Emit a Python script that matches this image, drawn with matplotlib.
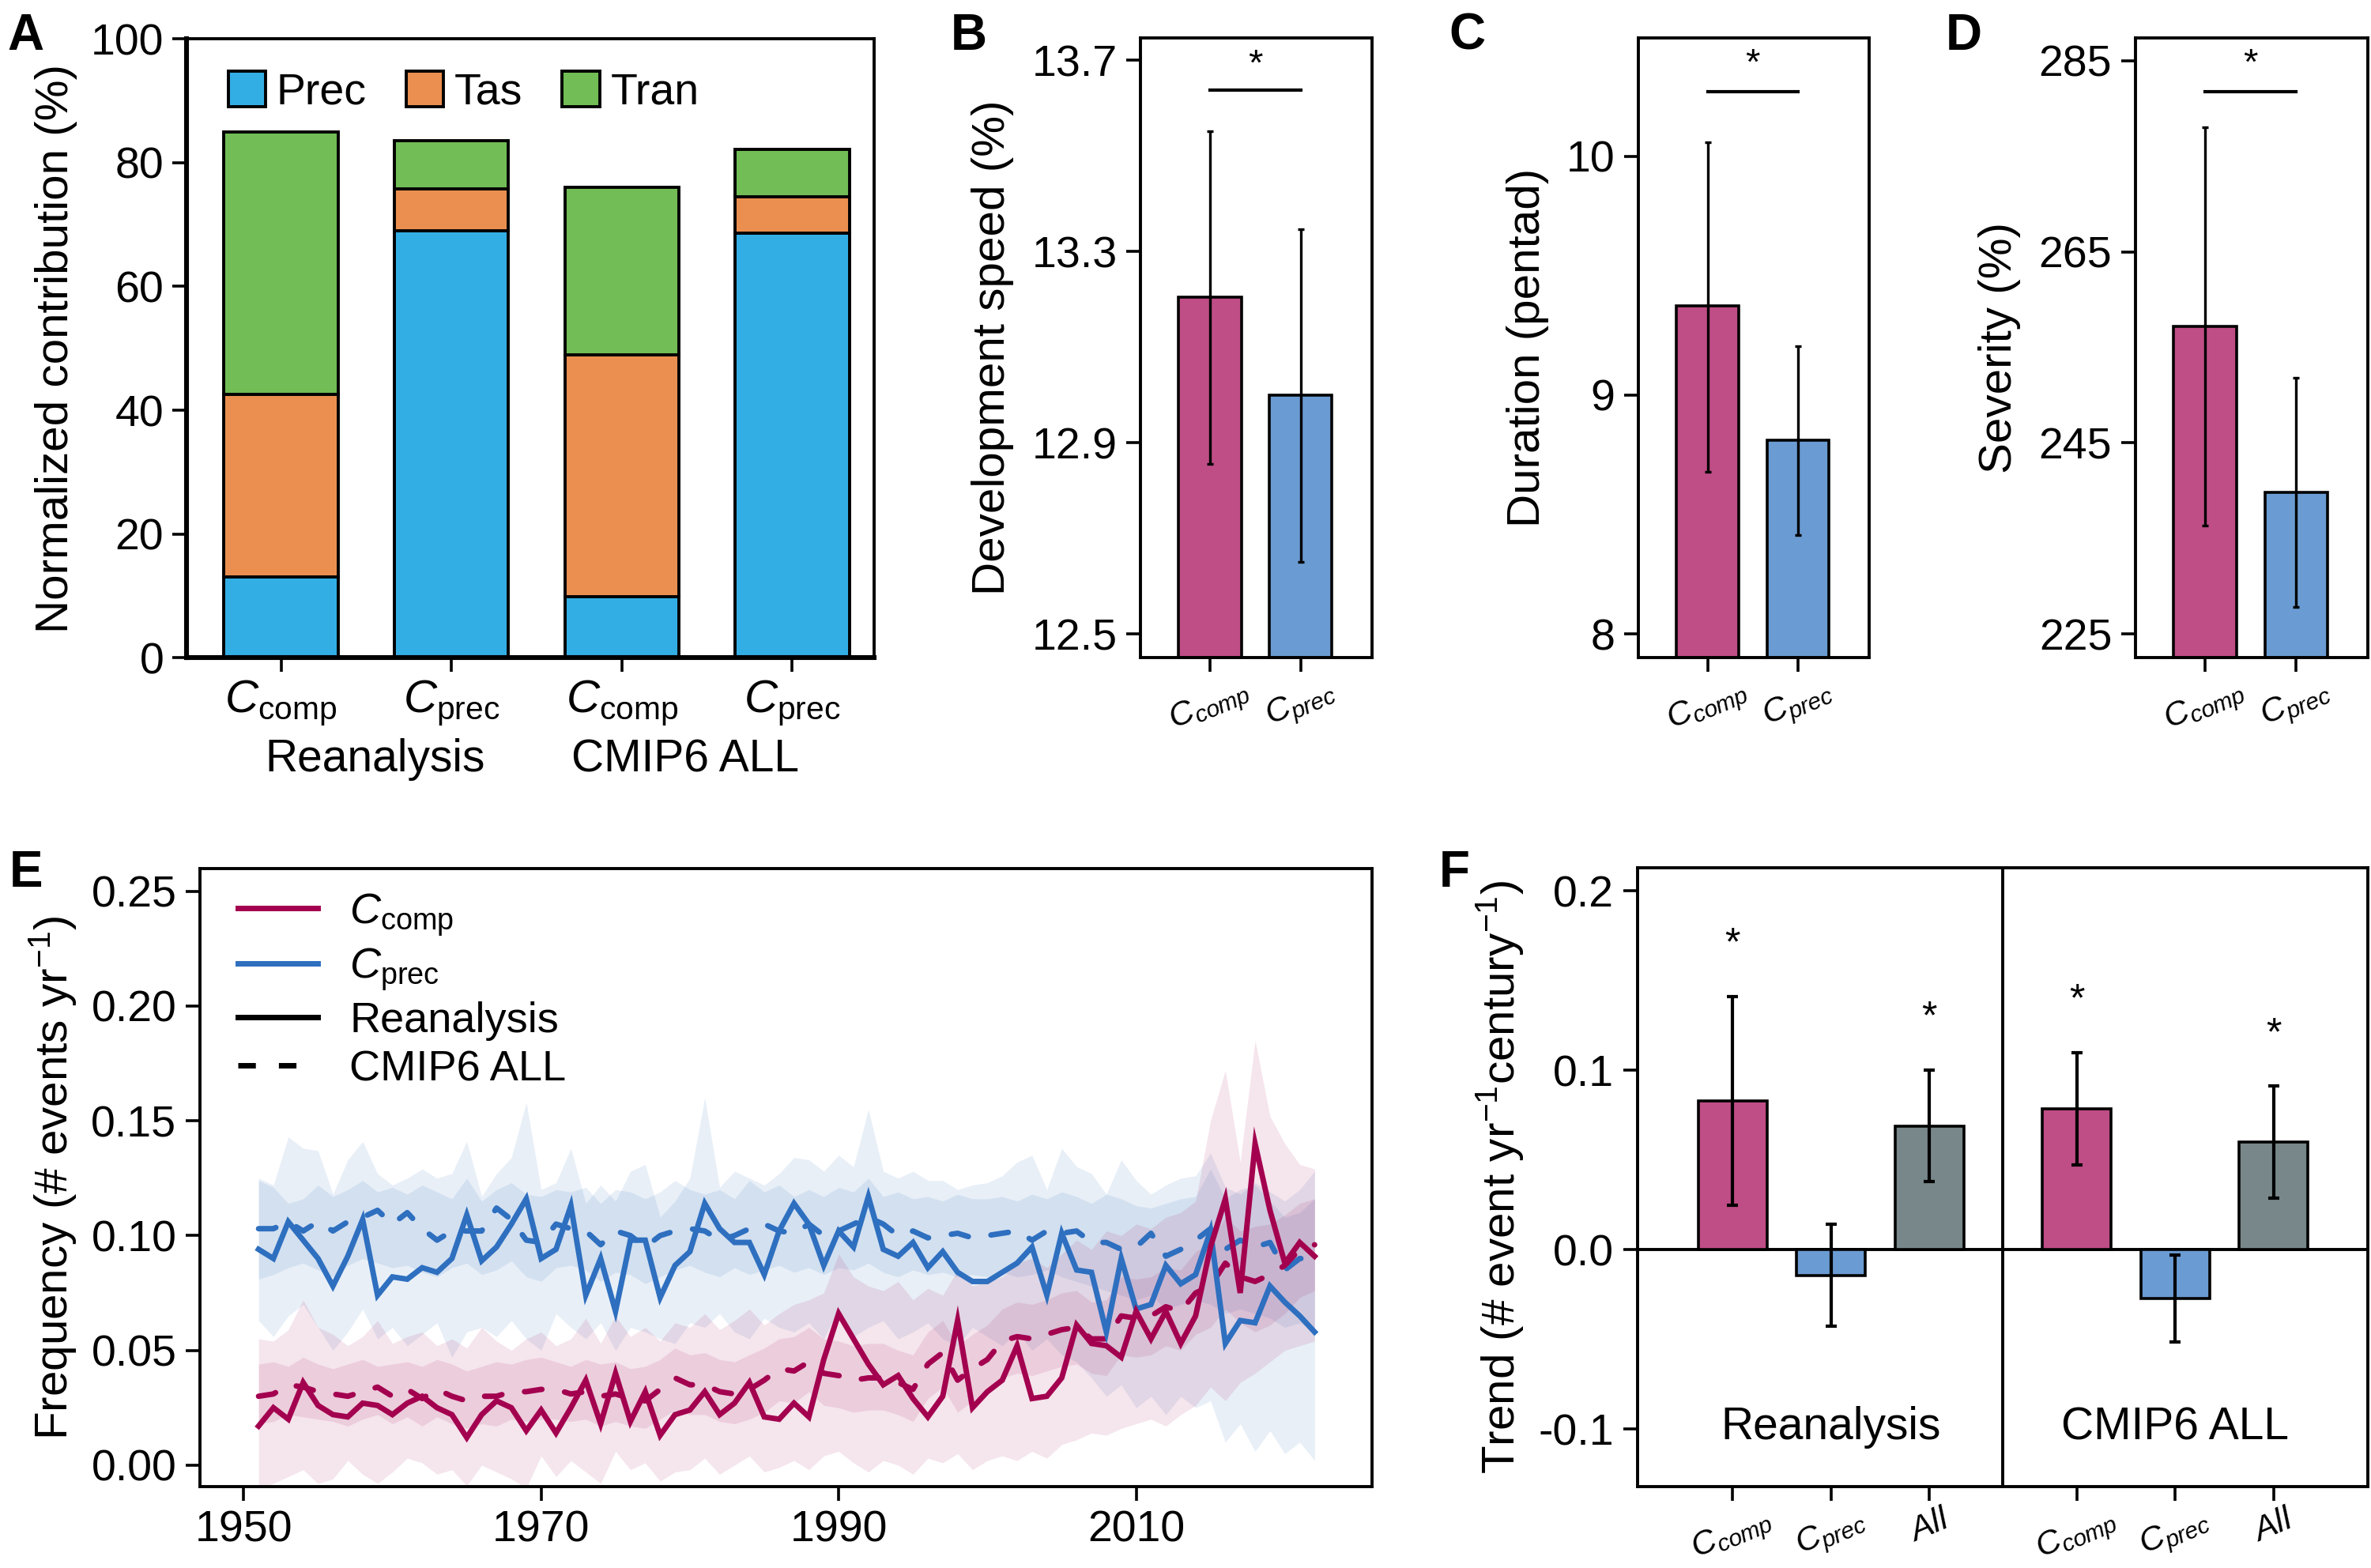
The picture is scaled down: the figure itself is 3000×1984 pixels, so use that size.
import numpy as np
import matplotlib
matplotlib.use("Agg")
import matplotlib.pyplot as plt
from matplotlib.lines import Line2D

plt.rcParams['font.family'] = ['Liberation Sans', 'DejaVu Sans']
plt.rcParams['mathtext.fontset'] = 'custom'
plt.rcParams['mathtext.rm'] = 'Liberation Sans'
plt.rcParams['mathtext.it'] = 'Liberation Sans:italic'
plt.rcParams['mathtext.bf'] = 'Liberation Sans:bold'

# ---------------- data ----------------
# Panel A
a_groups = ['Reanalysis', 'CMIP6 ALL']
a_prec = [13.0, 69.0, 9.9, 68.6]
a_tas = [29.6, 6.7, 39.0, 5.9]
a_tran = [42.3, 7.8, 27.1, 7.7]

# Panels B-D (Ccomp, Cprec)
b_val = [13.204, 12.999]
b_lo = [12.856, 12.651]
b_hi = [13.552, 13.347]
c_val = [9.373, 8.81]
c_lo = [8.68, 8.414]
c_hi = [10.059, 9.205]
d_val = [257.2, 239.8]
d_lo = [236.3, 227.8]
d_hi = [278.0, 251.8]

# Panel E
years = list(range(1951, 2023))
comp_rea = [0.017, 0.025, 0.020, 0.036, 0.026, 0.022, 0.021, 0.027, 0.026, 0.022,
            0.027, 0.030, 0.025, 0.022, 0.012, 0.022, 0.028, 0.025, 0.015, 0.024,
            0.014, 0.025, 0.037, 0.018, 0.040, 0.019, 0.032, 0.013, 0.022, 0.024,
            0.032, 0.022, 0.027, 0.036, 0.021, 0.020, 0.027, 0.021, 0.046, 0.066,
            0.055, 0.044, 0.035, 0.039, 0.029, 0.021, 0.030, 0.063, 0.025, 0.032,
            0.037, 0.052, 0.029, 0.030, 0.038, 0.061, 0.053, 0.052, 0.047, 0.067,
            0.055, 0.067, 0.053, 0.065, 0.095, 0.116, 0.075, 0.140, 0.111, 0.088,
            0.097, 0.091]
prec_rea = [0.094, 0.090, 0.106, 0.098, 0.090, 0.078, 0.091, 0.107, 0.074, 0.082,
            0.081, 0.086, 0.084, 0.090, 0.109, 0.089, 0.095, 0.105, 0.116, 0.090,
            0.094, 0.113, 0.074, 0.090, 0.067, 0.098, 0.098, 0.073, 0.087, 0.093,
            0.114, 0.103, 0.097, 0.097, 0.083, 0.102, 0.114, 0.105, 0.087, 0.102,
            0.095, 0.117, 0.094, 0.091, 0.097, 0.086, 0.093, 0.084, 0.080, 0.080,
            0.084, 0.088, 0.095, 0.074, 0.101, 0.085, 0.084, 0.058, 0.090, 0.068,
            0.070, 0.087, 0.079, 0.083, 0.102, 0.053, 0.063, 0.062, 0.078, 0.071,
            0.065, 0.058]
comp_cmip = [0.030, 0.031, 0.035, 0.034, 0.032, 0.031, 0.030, 0.032, 0.034, 0.030,
             0.033, 0.029, 0.033, 0.030, 0.028, 0.030, 0.030, 0.032, 0.032, 0.033,
             0.033, 0.031, 0.032, 0.030, 0.031, 0.029, 0.028, 0.033, 0.038, 0.035,
             0.035, 0.032, 0.031, 0.033, 0.037, 0.042, 0.041, 0.045, 0.040, 0.039,
             0.037, 0.038, 0.038, 0.036, 0.033, 0.044, 0.049, 0.037, 0.042, 0.046,
             0.054, 0.056, 0.055, 0.057, 0.059, 0.060, 0.055, 0.055, 0.065, 0.064,
             0.065, 0.069, 0.067, 0.075, 0.078, 0.088, 0.082, 0.080, 0.083, 0.087,
             0.094, 0.096]
prec_cmip = [0.103, 0.103, 0.106, 0.102, 0.106, 0.102, 0.106, 0.108, 0.111, 0.105,
             0.110, 0.103, 0.098, 0.102, 0.102, 0.102, 0.112, 0.107, 0.098, 0.097,
             0.105, 0.103, 0.102, 0.096, 0.102, 0.100, 0.095, 0.100, 0.102, 0.103,
             0.102, 0.098, 0.100, 0.103, 0.105, 0.102, 0.101, 0.105, 0.100, 0.102,
             0.105, 0.108, 0.105, 0.100, 0.102, 0.099, 0.100, 0.101, 0.099, 0.100,
             0.101, 0.102, 0.098, 0.102, 0.101, 0.102, 0.097, 0.097, 0.094, 0.095,
             0.101, 0.091, 0.094, 0.098, 0.103, 0.094, 0.098, 0.095, 0.097, 0.085,
             0.090, 0.090]
prec_out_hi = [0.125, 0.122, 0.143, 0.138, 0.137, 0.118, 0.133, 0.141, 0.127, 0.122,
               0.125, 0.129, 0.125, 0.127, 0.141, 0.117, 0.127, 0.134, 0.158, 0.120,
               0.123, 0.138, 0.114, 0.122, 0.115, 0.128, 0.131, 0.108, 0.115, 0.125,
               0.160, 0.121, 0.128, 0.125, 0.122, 0.127, 0.134, 0.133, 0.128, 0.135,
               0.130, 0.155, 0.128, 0.125, 0.128, 0.124, 0.124, 0.120, 0.122, 0.123,
               0.126, 0.132, 0.135, 0.120, 0.138, 0.130, 0.127, 0.118, 0.133, 0.124,
               0.118, 0.122, 0.125, 0.126, 0.136, 0.121, 0.118, 0.123, 0.119, 0.115,
               0.120, 0.128]
prec_out_lo = [0.063, 0.056, 0.065, 0.070, 0.060, 0.050, 0.058, 0.068, 0.055, 0.060,
               0.052, 0.057, 0.062, 0.047, 0.058, 0.060, 0.056, 0.063, 0.055, 0.050,
               0.066, 0.060, 0.055, 0.062, 0.050, 0.060, 0.058, 0.055, 0.053, 0.062,
               0.060, 0.066, 0.058, 0.055, 0.064, 0.060, 0.058, 0.062, 0.055, 0.068,
               0.056, 0.060, 0.063, 0.055, 0.058, 0.062, 0.055, 0.052, 0.060, 0.056,
               0.052, 0.058, 0.050, 0.055, 0.048, 0.045, 0.038, 0.030, 0.035, 0.025,
               0.030, 0.022, 0.030, 0.025, 0.028, 0.010, 0.018, 0.006, 0.015, 0.005,
               0.010, 0.002]
prec_in_hi = [0.124, 0.121, 0.114, 0.116, 0.122, 0.117, 0.120, 0.124, 0.119, 0.121,
              0.118, 0.122, 0.119, 0.116, 0.125, 0.115, 0.120, 0.123, 0.118, 0.117,
              0.120, 0.119, 0.121, 0.114, 0.120, 0.119, 0.116, 0.119, 0.124, 0.120,
              0.118, 0.120, 0.116, 0.124, 0.119, 0.122, 0.117, 0.120, 0.117, 0.121,
              0.119, 0.125, 0.117, 0.119, 0.116, 0.117, 0.115, 0.118, 0.116, 0.116,
              0.117, 0.115, 0.118, 0.116, 0.119, 0.117, 0.114, 0.118, 0.116, 0.113,
              0.112, 0.114, 0.116, 0.117, 0.129, 0.116, 0.120, 0.122, 0.115, 0.108,
              0.110, 0.116]
prec_in_lo = [0.081, 0.083, 0.086, 0.088, 0.085, 0.082, 0.087, 0.090, 0.088, 0.086,
              0.087, 0.084, 0.082, 0.086, 0.088, 0.083, 0.085, 0.089, 0.082, 0.080,
              0.086, 0.087, 0.085, 0.080, 0.084, 0.083, 0.079, 0.082, 0.085, 0.087,
              0.084, 0.082, 0.086, 0.083, 0.085, 0.087, 0.084, 0.086, 0.083, 0.086,
              0.085, 0.088, 0.084, 0.082, 0.085, 0.083, 0.084, 0.082, 0.083, 0.082,
              0.084, 0.082, 0.083, 0.085, 0.082, 0.080, 0.078, 0.076, 0.074, 0.072,
              0.074, 0.068, 0.070, 0.072, 0.070, 0.066, 0.068, 0.066, 0.064, 0.060,
              0.062, 0.058]
comp_out_hi = [0.055, 0.054, 0.059, 0.072, 0.060, 0.057, 0.052, 0.056, 0.063, 0.053,
               0.056, 0.058, 0.052, 0.055, 0.051, 0.060, 0.054, 0.050, 0.055, 0.058,
               0.052, 0.055, 0.064, 0.053, 0.065, 0.056, 0.060, 0.054, 0.062, 0.060,
               0.066, 0.059, 0.063, 0.068, 0.061, 0.066, 0.070, 0.072, 0.075, 0.092,
               0.082, 0.078, 0.076, 0.080, 0.072, 0.077, 0.074, 0.085, 0.078, 0.080,
               0.082, 0.088, 0.090, 0.086, 0.092, 0.098, 0.094, 0.102, 0.100, 0.105,
               0.103, 0.108, 0.110, 0.115, 0.150, 0.172, 0.132, 0.185, 0.152, 0.140,
               0.131, 0.129]
comp_out_lo = [-0.010, -0.008, -0.005, -0.002, -0.008, -0.006, 0.002, -0.004, -0.008, -0.003,
               0.003, 0.001, -0.004, -0.002, -0.009, 0.000, -0.003, -0.006, -0.010, 0.004,
               -0.005, 0.002, -0.003, -0.008, 0.006, -0.002, 0.001, -0.007, -0.003, -0.002,
               0.003, -0.004, 0.000, 0.004, -0.003, -0.001, 0.002, -0.002, 0.004, 0.006,
               0.001, -0.003, 0.002, 0.000, -0.004, 0.003, 0.001, 0.005, -0.002, 0.002,
               0.004, 0.002, 0.006, 0.003, 0.009, 0.011, 0.014, 0.013, 0.016, 0.018,
               0.020, 0.017, 0.022, 0.026, 0.034, 0.028, 0.036, 0.040, 0.045, 0.050,
               0.052, 0.054]
comp_in_hi = [0.044, 0.045, 0.043, 0.047, 0.044, 0.042, 0.044, 0.046, 0.043, 0.044,
              0.045, 0.043, 0.046, 0.044, 0.041, 0.043, 0.045, 0.044, 0.046, 0.047,
              0.045, 0.043, 0.046, 0.044, 0.045, 0.042, 0.043, 0.046, 0.051, 0.048,
              0.049, 0.046, 0.045, 0.048, 0.051, 0.055, 0.056, 0.060, 0.055, 0.054,
              0.052, 0.053, 0.053, 0.050, 0.048, 0.058, 0.063, 0.052, 0.057, 0.061,
              0.068, 0.071, 0.070, 0.072, 0.075, 0.076, 0.071, 0.072, 0.082, 0.081,
              0.082, 0.086, 0.085, 0.093, 0.097, 0.108, 0.102, 0.104, 0.105, 0.109,
              0.114, 0.116]
comp_in_lo = [0.018, 0.019, 0.022, 0.021, 0.020, 0.019, 0.017, 0.020, 0.022, 0.018,
              0.021, 0.017, 0.021, 0.018, 0.016, 0.018, 0.017, 0.020, 0.019, 0.020,
              0.020, 0.019, 0.020, 0.017, 0.019, 0.017, 0.016, 0.020, 0.024, 0.022,
              0.022, 0.019, 0.018, 0.020, 0.023, 0.028, 0.027, 0.032, 0.026, 0.025,
              0.023, 0.024, 0.024, 0.022, 0.019, 0.029, 0.034, 0.023, 0.028, 0.031,
              0.038, 0.040, 0.039, 0.041, 0.043, 0.044, 0.040, 0.039, 0.048, 0.047,
              0.048, 0.052, 0.050, 0.057, 0.060, 0.068, 0.062, 0.058, 0.061, 0.066,
              0.073, 0.076]

# Panel F
f_groups = ['Reanalysis', 'CMIP6 ALL']
f_val = [0.0831, -0.0142, 0.0691, 0.0785, -0.0272, 0.0602]
f_lo = [0.0249, -0.0427, 0.0381, 0.0475, -0.0513, 0.0287]
f_hi = [0.141, 0.0145, 0.100, 0.1098, -0.003, 0.0912]
f_sig = [True, False, True, True, False, True]
f_star_y = [0.170, None, 0.129, 0.139, None, 0.120]

# ---------------- style ----------------
C_PREC = '#33AEE4'
C_TAS = '#EA8F50'
C_TRAN = '#72BD55'
BAR_COMP = '#BF4D86'
BAR_PREC = '#6A9BD2'
BAR_ALL = '#77878A'
LN_COMP = '#A3004F'
LN_PREC = '#2E6FBF'
FS = 21      # axis labels
TFS = 20     # tick labels
RFS = 15.5   # rotated tick labels
ROT = 23

lab_comp_up = r'$\mathit{C}_{\mathrm{comp}}$'
lab_prec_up = r'$\mathit{C}_{\mathrm{prec}}$'
lab_comp_it = r'$\mathit{C_{comp}}$'
lab_prec_it = r'$\mathit{C_{prec}}$'
lab_all_it = r'$\mathit{All}$'

fig = plt.figure(figsize=(15, 9.92), dpi=200)

def style_axes(ax, lw=1.4):
    for s in ax.spines.values():
        s.set_linewidth(lw)
    ax.tick_params(direction='out', length=6.5, width=1.3, labelsize=TFS, pad=4)

# ---------------- Panel A ----------------
axA = fig.add_axes([0.0788, 0.5805, 0.2898, 0.3947])
xa = np.arange(4)
w = 0.67
axA.bar(xa, a_prec, w, color=C_PREC, edgecolor='black', linewidth=1.4, label='Prec')
axA.bar(xa, a_tas, w, bottom=a_prec, color=C_TAS, edgecolor='black', linewidth=1.4, label='Tas')
bot2 = [p + t for p, t in zip(a_prec, a_tas)]
axA.bar(xa, a_tran, w, bottom=bot2, color=C_TRAN, edgecolor='black', linewidth=1.4, label='Tran')
axA.set_xlim(-0.553, 3.48)
axA.set_ylim(0, 100)
axA.set_yticks([0, 20, 40, 60, 80, 100])
axA.set_xticks(xa)
style_axes(axA)
axA.set_xticklabels([lab_comp_up, lab_prec_up, lab_comp_up, lab_prec_up], fontsize=21)
axA.tick_params(axis='x', pad=3)
axA.spines['left'].set_linewidth(2.2)
axA.spines['bottom'].set_linewidth(2.2)
axA.set_ylabel('Normalized contribution (%)', fontsize=FS, labelpad=6)
axA.text(0.55, -0.165, a_groups[0], transform=axA.get_xaxis_transform(), ha='center', va='center', fontsize=20.5)
axA.text(2.37, -0.165, a_groups[1], transform=axA.get_xaxis_transform(), ha='center', va='center', fontsize=20.5)
axA.legend(loc='upper left', ncol=3, frameon=False, fontsize=20, handlelength=0.85, handleheight=0.85,
           handletextpad=0.25, columnspacing=0.9, bbox_to_anchor=(0.022, 0.99), borderaxespad=0.2)

# ---------------- Panels B-D ----------------
def small_panel(rect, vals, lo, hi, ylim, yticks, yticklabels, ylabel, bracket_y, star_y):
    ax = fig.add_axes(rect)
    x = np.arange(2)
    ax.bar(x, vals, 0.69, color=[BAR_COMP, BAR_PREC], edgecolor='black', linewidth=1.3)
    yerr = [[v - l for v, l in zip(vals, lo)], [h - v for v, h in zip(vals, hi)]]
    ax.errorbar(x, vals, yerr=yerr, fmt='none', ecolor='black', elinewidth=1.2, capsize=1.5, capthick=1.2)
    ax.set_xlim(-0.77, 1.79)
    ax.set_ylim(*ylim)
    ax.set_yticks(yticks)
    ax.set_yticklabels(yticklabels)
    ax.set_xticks(x)
    style_axes(ax)
    ax.set_xticklabels([lab_comp_it, lab_prec_it], rotation=ROT, ha='center', va='top', fontsize=RFS)
    ax.tick_params(axis='x', pad=1)
    ax.set_ylabel(ylabel, fontsize=FS, labelpad=8)
    ax.plot([0, 1], [bracket_y, bracket_y], color='black', lw=1.5)
    ax.text(0.5, star_y, '*', ha='center', va='center', fontsize=17)
    return ax

small_panel([0.4809, 0.5805, 0.0979, 0.3954], b_val, b_lo, b_hi, (12.45, 13.747),
            [12.5, 12.9, 13.3, 13.7], ['12.5', '12.9', '13.3', '13.7'], 'Development speed (%)', 13.637, 13.69)
small_panel([0.6909, 0.5805, 0.0975, 0.3954], c_val, c_lo, c_hi, (7.90, 10.496),
            [8, 9, 10], ['8', '9', '10'], 'Duration (pentad)', 10.27, 10.385)
small_panel([0.9005, 0.5805, 0.0983, 0.3954], d_val, d_lo, d_hi, (222.5, 287.4),
            [225, 245, 265, 285], ['225', '245', '265', '285'], 'Severity (%)', 281.8, 284.6)

# ---------------- Panel E ----------------
axE = fig.add_axes([0.0842, 0.0517, 0.4944, 0.3944])
yr = np.array(years)
axE.fill_between(yr, prec_out_lo, prec_out_hi, color=LN_PREC, alpha=0.11, lw=0, zorder=1)
axE.fill_between(yr, prec_in_lo, prec_in_hi, color=LN_PREC, alpha=0.11, lw=0, zorder=1)
axE.fill_between(yr, comp_out_lo, comp_out_hi, color=LN_COMP, alpha=0.10, lw=0, zorder=1)
axE.fill_between(yr, comp_in_lo, comp_in_hi, color=LN_COMP, alpha=0.10, lw=0, zorder=1)
dash = (0, (3.2, 4.2))
axE.plot(yr, prec_cmip, color=LN_PREC, lw=2.5, ls=dash, dash_capstyle='round', zorder=3)
axE.plot(yr, comp_cmip, color=LN_COMP, lw=2.5, ls=dash, dash_capstyle='round', zorder=3)
axE.plot(yr, prec_rea, color=LN_PREC, lw=2.5, solid_joinstyle='miter', zorder=4)
axE.plot(yr, comp_rea, color=LN_COMP, lw=2.5, solid_joinstyle='miter', zorder=4)
axE.set_xlim(1947.04, 2025.85)
axE.set_ylim(-0.0095, 0.2599)
axE.set_xticks([1950, 1970, 1990, 2010])
axE.set_yticks([0.0, 0.05, 0.10, 0.15, 0.20, 0.25])
axE.set_yticklabels(['0.00', '0.05', '0.10', '0.15', '0.20', '0.25'])
style_axes(axE)
axE.set_ylabel(r'Frequency (# events yr$^{-1}$)', fontsize=FS, labelpad=6)
handles = [Line2D([], [], color=LN_COMP, lw=2.5),
           Line2D([], [], color=LN_PREC, lw=2.5),
           Line2D([], [], color='black', lw=2.5),
           Line2D([], [], color='black', lw=2.5, ls=dash)]
axE.legend(handles, [lab_comp_up, lab_prec_up, 'Reanalysis', 'CMIP6 ALL'], loc='upper left',
           frameon=False, fontsize=19.5, handlelength=1.85, handletextpad=0.75, labelspacing=0.2,
           bbox_to_anchor=(0.0, 1.025))

# ---------------- Panel F ----------------
axF = fig.add_axes([0.6905, 0.0519, 0.3082, 0.3947])
xf = [0, 1, 2, 3.5, 4.5, 5.5]
colsF = [BAR_COMP, BAR_PREC, BAR_ALL, BAR_COMP, BAR_PREC, BAR_ALL]
axF.bar(xf, f_val, 0.70, color=colsF, edgecolor='black', linewidth=1.3, zorder=2)
yerrF = [[v - l for v, l in zip(f_val, f_lo)], [h - v for v, h in zip(f_val, f_hi)]]
axF.errorbar(xf, f_val, yerr=yerrF, fmt='none', ecolor='black', elinewidth=1.5, capsize=2.5, capthick=1.5, zorder=3)
axF.axhline(0, color='black', lw=1.4, zorder=1)
axF.axvline(2.75, color='black', lw=1.4, zorder=1)
for xx, s, sy in zip(xf, f_sig, f_star_y):
    if s:
        axF.text(xx, sy, '*', ha='center', va='center', fontsize=18)
axF.set_xlim(-0.97, 6.46)
axF.set_ylim(-0.132, 0.213)
axF.set_yticks([-0.1, 0.0, 0.1, 0.2])
axF.set_yticklabels(['-0.1', '0.0', '0.1', '0.2'])
axF.set_xticks(xf)
style_axes(axF)
axF.set_xticklabels([lab_comp_it, lab_prec_it, lab_all_it] * 2, rotation=ROT, ha='center', va='top', fontsize=RFS)
axF.tick_params(axis='x', pad=1)
axF.set_ylabel(r'Trend (# event yr$^{-1}$century$^{-1}$)', fontsize=FS, labelpad=6)
axF.text(1, -0.099, f_groups[0], ha='center', va='center', fontsize=20.5)
axF.text(4.5, -0.099, f_groups[1], ha='center', va='center', fontsize=20.5)

# ---------------- panel letters ----------------
for lab, x, y in [('A', 0.003, 0.992), ('B', 0.401, 0.992), ('C', 0.611, 0.992), ('D', 0.8207, 0.992),
                  ('E', 0.004, 0.458), ('F', 0.607, 0.458)]:
    fig.text(x, y, lab, fontsize=23, fontweight='bold', va='top', ha='left')

fig.savefig('out.png', dpi=200)
